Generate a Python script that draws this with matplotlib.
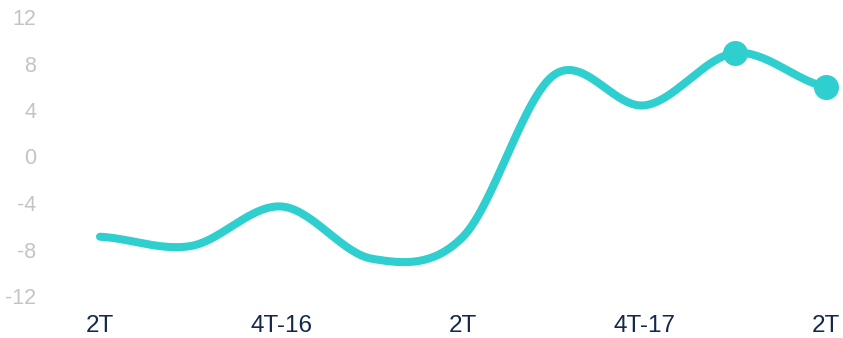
import numpy as np
import matplotlib
matplotlib.use("Agg")
import matplotlib.pyplot as plt

# ---------------------------------------------------------------------------
# Data
# ---------------------------------------------------------------------------
QUARTERS = ["2T", "3T", "4T-16", "1T", "2T", "3T", "4T-17", "1T", "2T"]
VALUES   = [-6.9, -7.7, -4.3, -8.8, -6.9, 7.0, 4.4, 8.9, 6.0]
MARKED   = [7, 8]                      # indices drawn with a dot
Y_TICKS  = [-12, -8, -4, 0, 4, 8, 12]

LINE_COLOR = "#2fcfcf"
YTICK_COLOR = "#c4c4c4"
XTICK_COLOR = "#15284b"


def catmull_rom(y, steps=60):
    """Smooth curve through y (uniform x spacing)."""
    y = np.asarray(y, dtype=float)
    p = np.concatenate([[y[0]], y, [y[-1]]])
    xs, ys = [], []
    t = np.linspace(0, 1, steps, endpoint=False)
    for i in range(len(y) - 1):
        p0, p1, p2, p3 = p[i], p[i + 1], p[i + 2], p[i + 3]
        seg = 0.5 * ((2 * p1) + (-p0 + p2) * t
                     + (2 * p0 - 5 * p1 + 4 * p2 - p3) * t ** 2
                     + (-p0 + 3 * p1 - 3 * p2 + p3) * t ** 3)
        xs.append(i + t)
        ys.append(seg)
    xs.append([len(y) - 1])
    ys.append([y[-1]])
    return np.concatenate(xs), np.concatenate(ys)


fig = plt.figure(figsize=(8.43, 3.38), dpi=100)
W, H = 843, 338
# axes box in pixels: left 50, right 843, top 5, bottom 305
ax = fig.add_axes([50 / W, (H - 305) / H, (843 - 50) / W, 300 / H])

x = np.arange(len(VALUES))
sx, sy = catmull_rom(VALUES)
ax.plot(sx, sy, color=LINE_COLOR, lw=5.8, solid_capstyle="round",
        solid_joinstyle="round", clip_on=False, zorder=2)
ax.plot(x[MARKED], np.array(VALUES)[MARKED], "o", color=LINE_COLOR,
        ms=17, clip_on=False, zorder=3)

px_x = 90.75     # pixels per category
px_y = 11.625    # pixels per unit
ax.set_xlim((50 - 100) / px_x, (843 - 100) / px_x)
ax.set_ylim(12 - (305 - 17) / px_y, 12 + (17 - 5) / px_y)

ax.set_yticks(Y_TICKS)
ax.set_yticklabels([str(v) for v in Y_TICKS], color=YTICK_COLOR,
                   fontsize=15.5, family="Liberation Sans")
ax.set_xticks(x[::2])
ax.set_xticklabels(QUARTERS[::2], color=XTICK_COLOR, fontsize=17.5,
                   family="Liberation Sans")
ax.tick_params(axis="y", length=0, pad=10)
ax.tick_params(axis="x", length=0, pad=7.5)
for s in ax.spines.values():
    s.set_visible(False)

fig.savefig("out.png", dpi=100, facecolor="white")
